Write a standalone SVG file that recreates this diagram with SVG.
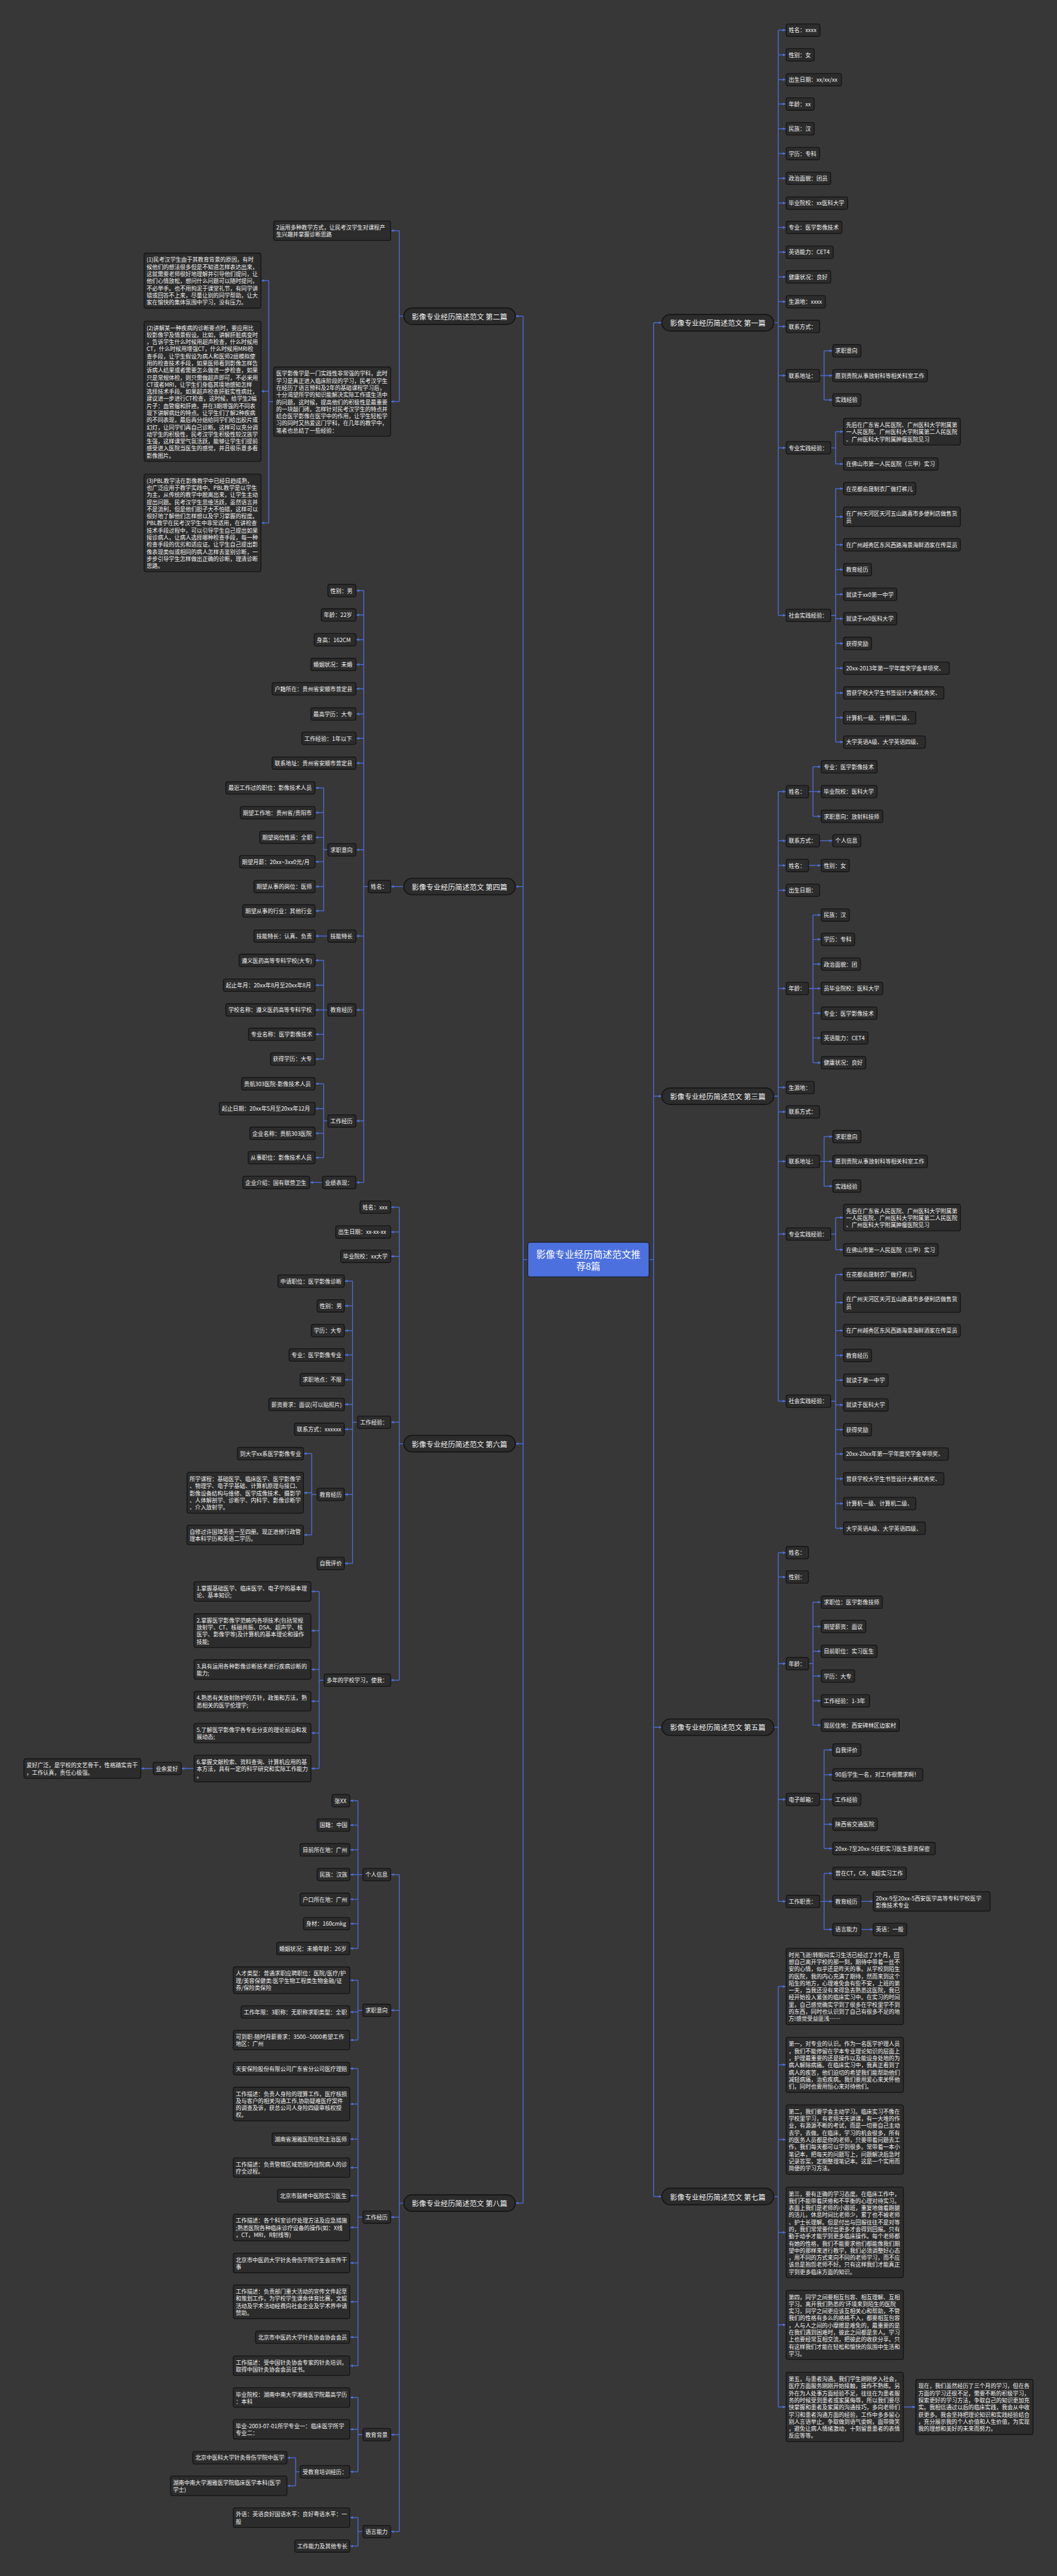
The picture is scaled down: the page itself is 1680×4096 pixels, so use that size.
<svg xmlns="http://www.w3.org/2000/svg" width="1680" height="4096" viewBox="0 0 1680 4096">
<defs>
<style>
.n rect{fill:#2c2c2c;stroke:#141414;stroke-width:2}
text{font-family:"Noto Sans CJK SC","Noto Sans",sans-serif;font-size:13.5px;fill:#f2f2f2;dominant-baseline:central}
.m rect{fill:#2c2c2c;stroke:#141414;stroke-width:2.5}
.m text{font-size:17.5px;text-anchor:middle}
.c path{fill:none;stroke:#4e6fd8;stroke-width:2}
.c path.a{marker-end:url(#ar)}
</style>
<marker id="ar" viewBox="0 0 10 10" refX="9" refY="5" markerWidth="8" markerHeight="8" markerUnits="userSpaceOnUse" orient="auto"><path d="M0,1L10,5L0,9z" fill="#4e6fd8"/></marker>
</defs>
<rect width="1680" height="4096" fill="#373737"/>
<g transform="scale(0.65625)">
<g id="connectors" class="c">
<path d="M1572,3052H1583M1583,782V5322M1278,3052H1267M1267,766V5338"/>
<path class="a" d="M1583,782H1602"/><path class="a" d="M1583,2656H1602"/><path class="a" d="M1583,4185H1602"/><path class="a" d="M1583,5322H1602"/>
<path class="a" d="M1267,766H1249"/><path class="a" d="M1267,2148H1249"/><path class="a" d="M1267,3498H1249"/><path class="a" d="M1267,5338H1249"/>
<path d="M1874,782H1885M1885,73V1491"/>
<path class="a" d="M1885,73H1903"/><path class="a" d="M1885,133H1903"/><path class="a" d="M1885,193H1903"/><path class="a" d="M1885,252H1903"/><path class="a" d="M1885,312H1903"/><path class="a" d="M1885,372H1903"/><path class="a" d="M1885,432H1903"/><path class="a" d="M1885,492H1903"/><path class="a" d="M1885,551H1903"/><path class="a" d="M1885,611H1903"/><path class="a" d="M1885,671H1903"/><path class="a" d="M1885,731H1903"/><path class="a" d="M1885,791H1903"/><path class="a" d="M1885,910H1903"/><path class="a" d="M1885,1085H1903"/><path class="a" d="M1885,1491H1903"/>
<path d="M1985,910H1996M1996,850V969"/><path class="a" d="M1996,850H2016"/><path class="a" d="M1996,910H2016"/><path class="a" d="M1996,969H2016"/>
<path d="M2012,1085H2024M2024,1046V1124"/><path class="a" d="M2024,1046H2042"/><path class="a" d="M2024,1124H2042"/>
<path d="M2012,1491H2024M2024,1184V1798"/><path class="a" d="M2024,1184H2042"/><path class="a" d="M2024,1252H2042"/><path class="a" d="M2024,1320H2042"/><path class="a" d="M2024,1380H2042"/><path class="a" d="M2024,1440H2042"/><path class="a" d="M2024,1499H2042"/><path class="a" d="M2024,1559H2042"/><path class="a" d="M2024,1619H2042"/><path class="a" d="M2024,1679H2042"/><path class="a" d="M2024,1739H2042"/><path class="a" d="M2024,1798H2042"/>
<path d="M1874,2656H1885M1885,1918V3395"/>
<path class="a" d="M1885,1918H1903"/><path class="a" d="M1885,2037H1903"/><path class="a" d="M1885,2097H1903"/><path class="a" d="M1885,2157H1903"/><path class="a" d="M1885,2395H1903"/><path class="a" d="M1885,2635H1903"/><path class="a" d="M1885,2694H1903"/><path class="a" d="M1885,2814H1903"/><path class="a" d="M1885,2990H1903"/><path class="a" d="M1885,3395H1903"/>
<path d="M1958,1918H1969M1969,1858V1978"/><path class="a" d="M1969,1858H1988"/><path class="a" d="M1969,1918H1988"/><path class="a" d="M1969,1978H1988"/>
<path class="a" d="M1985,2037H2016"/><path class="a" d="M1958,2097H1988"/>
<path d="M1958,2395H1969M1969,2217V2575"/><path class="a" d="M1969,2217H1988"/><path class="a" d="M1969,2276H1988"/><path class="a" d="M1969,2336H1988"/><path class="a" d="M1969,2395H1988"/><path class="a" d="M1969,2455H1988"/><path class="a" d="M1969,2515H1988"/><path class="a" d="M1969,2575H1988"/>
<path d="M1985,2814H1996M1996,2754V2874"/><path class="a" d="M1996,2754H2016"/><path class="a" d="M1996,2814H2016"/><path class="a" d="M1996,2874H2016"/>
<path d="M2012,2990H2024M2024,2950V3028"/><path class="a" d="M2024,2950H2042"/><path class="a" d="M2024,3028H2042"/>
<path d="M2012,3395H2024M2024,3088V3703"/><path class="a" d="M2024,3088H2042"/><path class="a" d="M2024,3156H2042"/><path class="a" d="M2024,3224H2042"/><path class="a" d="M2024,3284H2042"/><path class="a" d="M2024,3344H2042"/><path class="a" d="M2024,3404H2042"/><path class="a" d="M2024,3464H2042"/><path class="a" d="M2024,3523H2042"/><path class="a" d="M2024,3583H2042"/><path class="a" d="M2024,3643H2042"/><path class="a" d="M2024,3703H2042"/>
<path d="M1874,4185H1885M1885,3762V4607"/>
<path class="a" d="M1885,3762H1903"/><path class="a" d="M1885,3821H1903"/><path class="a" d="M1885,4031H1903"/><path class="a" d="M1885,4360H1903"/><path class="a" d="M1885,4607H1903"/>
<path d="M1958,4031H1969M1969,3882V4180"/><path class="a" d="M1969,3882H1988"/><path class="a" d="M1969,3941H1988"/><path class="a" d="M1969,4001H1988"/><path class="a" d="M1969,4061H1988"/><path class="a" d="M1969,4121H1988"/><path class="a" d="M1969,4180H1988"/>
<path d="M1985,4360H1996M1996,4240V4479"/><path class="a" d="M1996,4240H2016"/><path class="a" d="M1996,4300H2016"/><path class="a" d="M1996,4360H2016"/><path class="a" d="M1996,4420H2016"/><path class="a" d="M1996,4479H2016"/>
<path d="M1985,4607H1996M1996,4539V4675"/><path class="a" d="M1996,4539H2016"/><path class="a" d="M1996,4607H2016"/><path class="a" d="M1996,4675H2016"/>
<path class="a" d="M2085,4607H2114"/><path class="a" d="M2085,4675H2114"/>
<path d="M1874,5322H1885M1885,4813V5832"/>
<path class="a" d="M1885,4813H1903"/><path class="a" d="M1885,5003H1903"/><path class="a" d="M1885,5184H1903"/><path class="a" d="M1885,5409H1903"/><path class="a" d="M1885,5633H1903"/><path class="a" d="M1885,5832H1903"/>
<path class="a" d="M2188,5832H2217"/>
<path d="M978,766H967M967,559V973"/><path class="a" d="M967,559H947"/><path class="a" d="M967,973H947"/>
<path d="M663,973H651M651,680V1267"/><path class="a" d="M651,680H633"/><path class="a" d="M651,948H633"/><path class="a" d="M651,1267H633"/>
<path class="a" d="M978,2148H947"/>
<path d="M892,2148H881M881,1431V2865"/>
<path class="a" d="M881,1431H863"/><path class="a" d="M881,1490H863"/><path class="a" d="M881,1550H863"/><path class="a" d="M881,1610H863"/><path class="a" d="M881,1669H863"/><path class="a" d="M881,1730H863"/><path class="a" d="M881,1789H863"/><path class="a" d="M881,1849H863"/><path class="a" d="M881,2059H863"/><path class="a" d="M881,2268H863"/><path class="a" d="M881,2447H863"/><path class="a" d="M881,2716H863"/><path class="a" d="M881,2865H863"/>
<path d="M794,2059H784M784,1909V2207"/><path class="a" d="M784,1909H764"/><path class="a" d="M784,1969H764"/><path class="a" d="M784,2029H764"/><path class="a" d="M784,2088H764"/><path class="a" d="M784,2148H764"/><path class="a" d="M784,2207H764"/>
<path class="a" d="M794,2268H764"/>
<path d="M794,2447H784M784,2327V2566"/><path class="a" d="M784,2327H764"/><path class="a" d="M784,2387H764"/><path class="a" d="M784,2447H764"/><path class="a" d="M784,2506H764"/><path class="a" d="M784,2566H764"/>
<path d="M794,2716H784M784,2626V2805"/><path class="a" d="M784,2626H764"/><path class="a" d="M784,2686H764"/><path class="a" d="M784,2746H764"/><path class="a" d="M784,2805H764"/>
<path class="a" d="M781,2865H751"/>
<path d="M978,3498H967M967,2925V4071"/><path class="a" d="M967,2925H947"/><path class="a" d="M967,2985H947"/><path class="a" d="M967,3044H947"/><path class="a" d="M967,3446H947"/><path class="a" d="M967,4071H947"/>
<path d="M866,3446H854M854,3104V3788"/><path class="a" d="M854,3104H835"/><path class="a" d="M854,3164H835"/><path class="a" d="M854,3224H835"/><path class="a" d="M854,3283H835"/><path class="a" d="M854,3343H835"/><path class="a" d="M854,3403H835"/><path class="a" d="M854,3463H835"/><path class="a" d="M854,3621H835"/><path class="a" d="M854,3788H835"/>
<path d="M768,3621H755M755,3522V3719"/><path class="a" d="M755,3522H736"/><path class="a" d="M755,3617H736"/><path class="a" d="M755,3719H736"/>
<path d="M785,4071H773M773,3856V4285"/><path class="a" d="M773,3856H754"/><path class="a" d="M773,3951H754"/><path class="a" d="M773,4045H754"/><path class="a" d="M773,4122H754"/><path class="a" d="M773,4199H754"/><path class="a" d="M773,4285H754"/>
<path class="a" d="M470,4285H440"/><path class="a" d="M371,4285H342"/>
<path d="M978,5338H967M967,4542V6134"/><path class="a" d="M967,4542H947"/><path class="a" d="M967,4871H947"/><path class="a" d="M967,5372H947"/><path class="a" d="M967,5899H947"/><path class="a" d="M967,6134H947"/>
<path d="M879,4542H867M867,4363V4721"/><path class="a" d="M867,4363H848"/><path class="a" d="M867,4422H848"/><path class="a" d="M867,4482H848"/><path class="a" d="M867,4542H848"/><path class="a" d="M867,4602H848"/><path class="a" d="M867,4661H848"/><path class="a" d="M867,4721H848"/>
<path d="M879,4871H867M867,4798V4943"/><path class="a" d="M867,4798H848"/><path class="a" d="M867,4875H848"/><path class="a" d="M867,4943H848"/>
<path d="M879,5372H867M867,5012V5732"/><path class="a" d="M867,5012H848"/><path class="a" d="M867,5098H848"/><path class="a" d="M867,5183H848"/><path class="a" d="M867,5252H848"/><path class="a" d="M867,5320H848"/><path class="a" d="M867,5397H848"/><path class="a" d="M867,5483H848"/><path class="a" d="M867,5577H848"/><path class="a" d="M867,5663H848"/><path class="a" d="M867,5732H848"/>
<path d="M879,5899H867M867,5809V5989"/><path class="a" d="M867,5809H848"/><path class="a" d="M867,5886H848"/><path class="a" d="M867,5989H848"/>
<path d="M727,5989H716M716,5955V6023"/><path class="a" d="M716,5955H696"/><path class="a" d="M716,6023H696"/>
<path d="M879,6134H867M867,6100V6169"/><path class="a" d="M867,6100H848"/><path class="a" d="M867,6169H848"/>
</g>

<g id="root"><rect x="1278" y="3010" width="294" height="84" rx="6" fill="#4c70de" stroke="#1a1f33" stroke-width="2"/><text x="1425" y="3037" style="font-size:23px;text-anchor:middle;fill:#fff">影像专业经历简述范文推</text><text x="1425" y="3066" style="font-size:23px;text-anchor:middle;fill:#fff">荐8篇</text></g>

<g id="p1" class="m"><rect x="1603" y="762" width="271" height="40" rx="20"/><text x="1738.5" y="782">影像专业经历简述范文 第一篇</text></g>
<g id="p3" class="m"><rect x="1603" y="2636" width="271" height="40" rx="20"/><text x="1738.5" y="2656">影像专业经历简述范文 第三篇</text></g>
<g id="p5" class="m"><rect x="1603" y="4165" width="271" height="40" rx="20"/><text x="1738.5" y="4185">影像专业经历简述范文 第五篇</text></g>
<g id="p7" class="m"><rect x="1603" y="5302" width="271" height="40" rx="20"/><text x="1738.5" y="5322">影像专业经历简述范文 第七篇</text></g>
<g id="p2" class="m"><rect x="978" y="746" width="270" height="40" rx="20"/><text x="1113" y="766">影像专业经历简述范文 第二篇</text></g>
<g id="p4" class="m"><rect x="978" y="2128" width="270" height="40" rx="20"/><text x="1113" y="2148">影像专业经历简述范文 第四篇</text></g>
<g id="p6" class="m"><rect x="978" y="3478" width="270" height="40" rx="20"/><text x="1113" y="3498">影像专业经历简述范文 第六篇</text></g>
<g id="p8" class="m"><rect x="978" y="5318" width="270" height="40" rx="20"/><text x="1113" y="5338">影像专业经历简述范文 第八篇</text></g>

<g class="n">
<g id="a1"><rect x="1904" y="58" width="82" height="30" rx="5"/><text x="1910" y="73">姓名：xxxx</text></g>
<g id="a2"><rect x="1904" y="118" width="68" height="30" rx="5"/><text x="1910" y="133">性别：女</text></g>
<g id="a3"><rect x="1904" y="178" width="134" height="30" rx="5"/><text x="1910" y="193">出生日期：xx/xx/xx</text></g>
<g id="a4"><rect x="1904" y="237" width="68" height="30" rx="5"/><text x="1910" y="252">年龄：xx</text></g>
<g id="a5"><rect x="1904" y="297" width="68" height="30" rx="5"/><text x="1910" y="312">民族：汉</text></g>
<g id="a6"><rect x="1904" y="357" width="81" height="30" rx="5"/><text x="1910" y="372">学历：专科</text></g>
<g id="a7"><rect x="1904" y="417" width="108" height="30" rx="5"/><text x="1910" y="432">政治面貌：团员</text></g>
<g id="a8"><rect x="1904" y="477" width="149" height="30" rx="5"/><text x="1910" y="492">毕业院校：xx医科大学</text></g>
<g id="a9"><rect x="1904" y="536" width="135" height="30" rx="5"/><text x="1910" y="551">专业：医学影像技术</text></g>
<g id="a10"><rect x="1904" y="596" width="114" height="30" rx="5"/><text x="1910" y="611">英语能力：CET4</text></g>
<g id="a11"><rect x="1904" y="656" width="108" height="30" rx="5"/><text x="1910" y="671">健康状况：良好</text></g>
<g id="a12"><rect x="1904" y="716" width="95" height="30" rx="5"/><text x="1910" y="731">生源地：xxxx</text></g>
<g id="a13"><rect x="1904" y="776" width="81" height="30" rx="5"/><text x="1910" y="791">联系方式：</text></g>
<g id="a14"><rect x="1904" y="895" width="81" height="30" rx="5"/><text x="1910" y="910">联系地址：</text></g>
<g id="a14a"><rect x="2017" y="835" width="68" height="30" rx="5"/><text x="2023" y="850">求职意向</text></g>
<g id="a14b"><rect x="2017" y="895" width="229" height="30" rx="5"/><text x="2023" y="910">愿到贵院从事放射科等相关科室工作</text></g>
<g id="a14c"><rect x="2017" y="954" width="68" height="30" rx="5"/><text x="2023" y="969">实践经验</text></g>
<g id="a15"><rect x="1904" y="1070" width="108" height="30" rx="5"/><text x="1910" y="1085">专业实践经验：</text></g>
<g id="a15a"><rect x="2043" y="1013.7" width="283" height="64.6" rx="5"/><text y="1028.8"><tspan x="2049">先后在广东省人民医院、广州医科大学附属第</tspan><tspan x="2049" dy="17.2">一人民医院、广州医科大学附属第二人民医院</tspan><tspan x="2049" dy="17.2">、广州医科大学附属肿瘤医院见习</tspan></text></g>
<g id="a15b"><rect x="2043" y="1109" width="229" height="30" rx="5"/><text x="2049" y="1124">在佛山市第一人民医院（三甲）实习</text></g>
<g id="a16"><rect x="1904" y="1476" width="108" height="30" rx="5"/><text x="1910" y="1491">社会实践经验：</text></g>
<g id="a16a"><rect x="2043" y="1169" width="175" height="30" rx="5"/><text x="2049" y="1184">在花都俞晟制衣厂做打裤儿</text></g>
<g id="a16b"><rect x="2043" y="1228.3" width="283" height="47.4" rx="5"/><text y="1243.4"><tspan x="2049">在广州天河区天河五山路喜市多便利店做售货</tspan><tspan x="2049" dy="17.2">员</tspan></text></g>
<g id="a16c"><rect x="2043" y="1305" width="283" height="30" rx="5"/><text x="2049" y="1320">在广州越秀区东风西路海景海鲜酒家在传菜员</text></g>
<g id="a16d"><rect x="2043" y="1365" width="68" height="30" rx="5"/><text x="2049" y="1380">教育经历</text></g>
<g id="a16e"><rect x="2043" y="1425" width="129" height="30" rx="5"/><text x="2049" y="1440">就读于xx0第一中学</text></g>
<g id="a16f"><rect x="2043" y="1484" width="129" height="30" rx="5"/><text x="2049" y="1499">就读于xx0医科大学</text></g>
<g id="a16g"><rect x="2043" y="1544" width="68" height="30" rx="5"/><text x="2049" y="1559">获得奖励</text></g>
<g id="a16h"><rect x="2043" y="1604" width="256" height="30" rx="5"/><text x="2049" y="1619">20xx-2013年第一学年度奖学金单项奖、</text></g>
<g id="a16i"><rect x="2043" y="1664" width="243" height="30" rx="5"/><text x="2049" y="1679">曾获学校大学生书签设计大赛优秀奖、</text></g>
<g id="a16j"><rect x="2043" y="1724" width="175" height="30" rx="5"/><text x="2049" y="1739">计算机一级、计算机二级、</text></g>
<g id="a16k"><rect x="2043" y="1783" width="198" height="30" rx="5"/><text x="2049" y="1798">大学英语A级、大学英语四级、</text></g>

<g id="c1"><rect x="1904" y="1903" width="54" height="30" rx="5"/><text x="1910" y="1918">姓名：</text></g>
<g id="c1a"><rect x="1989" y="1843" width="135" height="30" rx="5"/><text x="1995" y="1858">专业：医学影像技术</text></g>
<g id="c1b"><rect x="1989" y="1903" width="135" height="30" rx="5"/><text x="1995" y="1918">毕业院校：医科大学</text></g>
<g id="c1c"><rect x="1989" y="1963" width="149" height="30" rx="5"/><text x="1995" y="1978">求职意向：放射科技师</text></g>
<g id="c2"><rect x="1904" y="2022" width="81" height="30" rx="5"/><text x="1910" y="2037">联系方式：</text></g>
<g id="c2a"><rect x="2017" y="2022" width="68" height="30" rx="5"/><text x="2023" y="2037">个人信息</text></g>
<g id="c3"><rect x="1904" y="2082" width="54" height="30" rx="5"/><text x="1910" y="2097">姓名：</text></g>
<g id="c3a"><rect x="1989" y="2082" width="68" height="30" rx="5"/><text x="1995" y="2097">性别：女</text></g>
<g id="c4"><rect x="1904" y="2142" width="81" height="30" rx="5"/><text x="1910" y="2157">出生日期：</text></g>
<g id="c5"><rect x="1904" y="2380" width="54" height="30" rx="5"/><text x="1910" y="2395">年龄：</text></g>
<g id="c5a"><rect x="1989" y="2202" width="68" height="30" rx="5"/><text x="1995" y="2217">民族：汉</text></g>
<g id="c5b"><rect x="1989" y="2261" width="81" height="30" rx="5"/><text x="1995" y="2276">学历：专科</text></g>
<g id="c5c"><rect x="1989" y="2321" width="95" height="30" rx="5"/><text x="1995" y="2336">政治面貌：团</text></g>
<g id="c5d"><rect x="1989" y="2380" width="149" height="30" rx="5"/><text x="1995" y="2395">员毕业院校：医科大学</text></g>
<g id="c5e"><rect x="1989" y="2440" width="135" height="30" rx="5"/><text x="1995" y="2455">专业：医学影像技术</text></g>
<g id="c5f"><rect x="1989" y="2500" width="113" height="30" rx="5"/><text x="1995" y="2515">英语能力：CET4</text></g>
<g id="c5g"><rect x="1989" y="2560" width="108" height="30" rx="5"/><text x="1995" y="2575">健康状况：良好</text></g>
<g id="c6"><rect x="1904" y="2620" width="68" height="30" rx="5"/><text x="1910" y="2635">生源地：</text></g>
<g id="c7"><rect x="1904" y="2679" width="81" height="30" rx="5"/><text x="1910" y="2694">联系方式：</text></g>
<g id="c8"><rect x="1904" y="2799" width="81" height="30" rx="5"/><text x="1910" y="2814">联系地址：</text></g>
<g id="c8a"><rect x="2017" y="2739" width="68" height="30" rx="5"/><text x="2023" y="2754">求职意向</text></g>
<g id="c8b"><rect x="2017" y="2799" width="229" height="30" rx="5"/><text x="2023" y="2814">愿到贵院从事放射科等相关科室工作</text></g>
<g id="c8c"><rect x="2017" y="2859" width="68" height="30" rx="5"/><text x="2023" y="2874">实践经验</text></g>
<g id="c9"><rect x="1904" y="2975" width="108" height="30" rx="5"/><text x="1910" y="2990">专业实践经验：</text></g>
<g id="c9a"><rect x="2043" y="2917.7" width="283" height="64.6" rx="5"/><text y="2932.8"><tspan x="2049">先后在广东省人民医院、广州医科大学附属第</tspan><tspan x="2049" dy="17.2">一人民医院、广州医科大学附属第二人民医院</tspan><tspan x="2049" dy="17.2">、广州医科大学附属肿瘤医院见习</tspan></text></g>
<g id="c9b"><rect x="2043" y="3013" width="229" height="30" rx="5"/><text x="2049" y="3028">在佛山市第一人民医院（三甲）实习</text></g>
<g id="c10"><rect x="1904" y="3380" width="108" height="30" rx="5"/><text x="1910" y="3395">社会实践经验：</text></g>
<g id="c10a"><rect x="2043" y="3073" width="175" height="30" rx="5"/><text x="2049" y="3088">在花都俞晟制衣厂做打裤儿</text></g>
<g id="c10b"><rect x="2043" y="3132.3" width="283" height="47.4" rx="5"/><text y="3147.4"><tspan x="2049">在广州天河区天河五山路喜市多便利店做售货</tspan><tspan x="2049" dy="17.2">员</tspan></text></g>
<g id="c10c"><rect x="2043" y="3209" width="283" height="30" rx="5"/><text x="2049" y="3224">在广州越秀区东风西路海景海鲜酒家在传菜员</text></g>
<g id="c10d"><rect x="2043" y="3269" width="68" height="30" rx="5"/><text x="2049" y="3284">教育经历</text></g>
<g id="c10e"><rect x="2043" y="3329" width="108" height="30" rx="5"/><text x="2049" y="3344">就读于第一中学</text></g>
<g id="c10f"><rect x="2043" y="3389" width="108" height="30" rx="5"/><text x="2049" y="3404">就读于医科大学</text></g>
<g id="c10g"><rect x="2043" y="3449" width="68" height="30" rx="5"/><text x="2049" y="3464">获得奖励</text></g>
<g id="c10h"><rect x="2043" y="3508" width="254" height="30" rx="5"/><text x="2049" y="3523">20xx-20xx年第一学年度奖学金单项奖、</text></g>
<g id="c10i"><rect x="2043" y="3568" width="243" height="30" rx="5"/><text x="2049" y="3583">曾获学校大学生书签设计大赛优秀奖、</text></g>
<g id="c10j"><rect x="2043" y="3628" width="175" height="30" rx="5"/><text x="2049" y="3643">计算机一级、计算机二级、</text></g>
<g id="c10k"><rect x="2043" y="3688" width="198" height="30" rx="5"/><text x="2049" y="3703">大学英语A级、大学英语四级、</text></g>

<g id="e1"><rect x="1904" y="3747" width="54" height="30" rx="5"/><text x="1910" y="3762">姓名：</text></g>
<g id="e2"><rect x="1904" y="3806" width="54" height="30" rx="5"/><text x="1910" y="3821">性别：</text></g>
<g id="e3"><rect x="1904" y="4016" width="54" height="30" rx="5"/><text x="1910" y="4031">年龄：</text></g>
<g id="e3a"><rect x="1989" y="3867" width="148" height="30" rx="5"/><text x="1995" y="3882">求职位：医学影像技师</text></g>
<g id="e3b"><rect x="1989" y="3926" width="108" height="30" rx="5"/><text x="1995" y="3941">期望薪资：面议</text></g>
<g id="e3c"><rect x="1989" y="3986" width="135" height="30" rx="5"/><text x="1995" y="4001">目前职位：实习医生</text></g>
<g id="e3d"><rect x="1989" y="4046" width="81" height="30" rx="5"/><text x="1995" y="4061">学历：大专</text></g>
<g id="e3e"><rect x="1989" y="4106" width="117" height="30" rx="5"/><text x="1995" y="4121">工作经验：1-3年</text></g>
<g id="e3f"><rect x="1989" y="4165" width="189" height="30" rx="5"/><text x="1995" y="4180">现居住地：西安碑林区边家村</text></g>
<g id="e4"><rect x="1904" y="4345" width="81" height="30" rx="5"/><text x="1910" y="4360">电子邮箱：</text></g>
<g id="e4a"><rect x="2017" y="4225" width="68" height="30" rx="5"/><text x="2023" y="4240">自我评价</text></g>
<g id="e4b"><rect x="2017" y="4285" width="218" height="30" rx="5"/><text x="2023" y="4300">90后学生一名，对工作很需求啊！</text></g>
<g id="e4c"><rect x="2017" y="4345" width="68" height="30" rx="5"/><text x="2023" y="4360">工作经验</text></g>
<g id="e4d"><rect x="2017" y="4405" width="108" height="30" rx="5"/><text x="2023" y="4420">陕西省交通医院</text></g>
<g id="e4e"><rect x="2017" y="4464" width="248" height="30" rx="5"/><text x="2023" y="4479">20xx-7至20xx-5任职实习医生薪资保密</text></g>
<g id="e5"><rect x="1904" y="4592" width="81" height="30" rx="5"/><text x="1910" y="4607">工作职责：</text></g>
<g id="e5a"><rect x="2017" y="4524" width="178" height="30" rx="5"/><text x="2023" y="4539">曾在CT，CR，B超实习工作</text></g>
<g id="e5b"><rect x="2017" y="4592" width="68" height="30" rx="5"/><text x="2023" y="4607">教育经历</text></g>
<g id="e5b1"><rect x="2115" y="4583.3" width="283" height="47.4" rx="5"/><text y="4598.4"><tspan x="2121">20xx-9至20xx-5西安医学高等专科学校医学</tspan><tspan x="2121" dy="17.2">影像技术专业</tspan></text></g>
<g id="e5c"><rect x="2017" y="4660" width="68" height="30" rx="5"/><text x="2023" y="4675">语言能力</text></g>
<g id="e5c1"><rect x="2115" y="4660" width="81" height="30" rx="5"/><text x="2121" y="4675">英语：一般</text></g>

<g id="g1"><rect x="1904" y="4720.5" width="284" height="185" rx="5"/><text y="4735.6"><tspan x="1910">时光飞逝!转眼间实习生活已经过了3个月，回</tspan><tspan x="1910" dy="17.2">想自己离开学校的那一刻，期待中带着一丝不</tspan><tspan x="1910" dy="17.2">安的心情，似乎还是昨天的事。从学校到陌生</tspan><tspan x="1910" dy="17.2">的医院，我的内心充满了期待，然而来到这个</tspan><tspan x="1910" dy="17.2">陌生的地方，心理难免会有些不安，上班的第</tspan><tspan x="1910" dy="17.2">一天，当我还没有来得急去熟悉这医院，我已</tspan><tspan x="1910" dy="17.2">经开始投入紧张的临床实习中。在实习的时间</tspan><tspan x="1910" dy="17.2">里，自己感觉确实学到了很多在学校里学不到</tspan><tspan x="1910" dy="17.2">的东西，同时也认识到了自己有很多不足的地</tspan><tspan x="1910" dy="17.2">方!感觉受益匪浅……</tspan></text></g>
<g id="g2"><rect x="1904" y="4936.3" width="284" height="133.4" rx="5"/><text y="4951.4"><tspan x="1910">第一，对专业的认识。作为一名医学护理人员</tspan><tspan x="1910" dy="17.2">，我们不能停留在学本专业理论知识的层面上</tspan><tspan x="1910" dy="17.2">，护理最重要的还是操作以及能设身处地的为</tspan><tspan x="1910" dy="17.2">病人解除病痛。在临床实习中，我真正看到了</tspan><tspan x="1910" dy="17.2">病人的疾苦，他们迫切的希望我们能帮助他们</tspan><tspan x="1910" dy="17.2">减轻病痛，治愈疾病。我们要用爱心来关怀他</tspan><tspan x="1910" dy="17.2">们，同时也要用恒心来对待他们。</tspan></text></g>
<g id="g3"><rect x="1904" y="5100.1" width="284" height="167.8" rx="5"/><text y="5115.2"><tspan x="1910">第二，我们要学会主动学习。临床实习不像在</tspan><tspan x="1910" dy="17.2">学校里学习，有老师天天讲课，有一大堆的作</tspan><tspan x="1910" dy="17.2">业，有源源不断的考试，而是一切要自己主动</tspan><tspan x="1910" dy="17.2">去学，去做。在临床，学习的机会很多，所有</tspan><tspan x="1910" dy="17.2">的医务人员都是你的老师，只要带着问题去工</tspan><tspan x="1910" dy="17.2">作，我们每天都可以学到很多。常带着一本小</tspan><tspan x="1910" dy="17.2">笔记本，把每天的问题写上，问题解决后急时</tspan><tspan x="1910" dy="17.2">记录答案，定期整理笔记本。这是一个实用而</tspan><tspan x="1910" dy="17.2">简便的学习方法。</tspan></text></g>
<g id="g4"><rect x="1904" y="5299.3" width="284" height="219.4" rx="5"/><text y="5314.4"><tspan x="1910">第三，要有正确的学习态度。在临床工作中，</tspan><tspan x="1910" dy="17.2">我们不能带着厌倦和不平衡的心理对待实习。</tspan><tspan x="1910" dy="17.2">表面上我们是老师的小跟班，重复地做着跑腿</tspan><tspan x="1910" dy="17.2">的活儿，休息时间比老师少，累了也不被老师</tspan><tspan x="1910" dy="17.2">、护士长理解。但是付出与回报往往不是对等</tspan><tspan x="1910" dy="17.2">的，我们常常要付出更多才会得到回报。只有</tspan><tspan x="1910" dy="17.2">勤于动手才能学到更多临床操作。每个老师都</tspan><tspan x="1910" dy="17.2">有她的性格，我们不能要求他们都能像我们期</tspan><tspan x="1910" dy="17.2">望中的那样来进行教学，我们必须调整好心态</tspan><tspan x="1910" dy="17.2">，用不同的方式来向不同的老师学习，而不应</tspan><tspan x="1910" dy="17.2">该总是抱怨老师不好。只有这样我们才能真正</tspan><tspan x="1910" dy="17.2">学到更多临床方面的知识。</tspan></text></g>
<g id="g5"><rect x="1904" y="5549.1" width="284" height="167.8" rx="5"/><text y="5564.2"><tspan x="1910">第四，同学之间要相互包容、相互理解、互相</tspan><tspan x="1910" dy="17.2">学习。离开我们熟悉的'环境来到陌生的医院</tspan><tspan x="1910" dy="17.2">实习，同学之间更应该互相关心和帮助，不管</tspan><tspan x="1910" dy="17.2">我们的性格有多么的格格不入，都要相互包容</tspan><tspan x="1910" dy="17.2">，人与人之间的小摩擦是难免的，最重要的是</tspan><tspan x="1910" dy="17.2">在我们遇到困难时，彼此之间都是亲人。学习</tspan><tspan x="1910" dy="17.2">上也要经常互相交流，把彼此的收获分享。只</tspan><tspan x="1910" dy="17.2">有这样我们才能在轻松和愉快的氛围中生活和</tspan><tspan x="1910" dy="17.2">学习。</tspan></text></g>
<g id="g6"><rect x="1904" y="5748.1" width="284" height="167.8" rx="5"/><text y="5763.2"><tspan x="1910">第五，与患者沟通。我们学生刚刚步入社会，</tspan><tspan x="1910" dy="17.2">医疗方面服务刚刚开始接触，操作不熟练。另</tspan><tspan x="1910" dy="17.2">外在为人处事方面经验不足，往往在为患者服</tspan><tspan x="1910" dy="17.2">务的时候受到患者或家属侮辱，所以我们要尽</tspan><tspan x="1910" dy="17.2">快掌握和患者及家属的沟通技巧，多向老师们</tspan><tspan x="1910" dy="17.2">学习和患者沟通方面的经验，工作中多多留心</tspan><tspan x="1910" dy="17.2">别人言语举止。争取做到语气委婉，面带微笑</tspan><tspan x="1910" dy="17.2">，避免让病人情绪激动，十刻留意患者的表情</tspan><tspan x="1910" dy="17.2">反应等等。</tspan></text></g>
<g id="g6a"><rect x="2218" y="5765.3" width="284" height="133.4" rx="5"/><text y="5780.4"><tspan x="2224">现在，我们虽然经历了三个月的学习，但在各</tspan><tspan x="2224" dy="17.2">方面的学习还很不足，需要不断的积极学习，</tspan><tspan x="2224" dy="17.2">探索更好的学习方法，争取自己的知识更加充</tspan><tspan x="2224" dy="17.2">实。我相信通过以后的临床实践，我会从中收</tspan><tspan x="2224" dy="17.2">获更多。我会坚持把理论知识和实践经验结合</tspan><tspan x="2224" dy="17.2">，充分展示我的个人价值和人生价值，为实现</tspan><tspan x="2224" dy="17.2">我的理想和美好的未来而努力。</tspan></text></g>

<g id="b1"><rect x="663" y="535.3" width="283" height="47.4" rx="5"/><text y="550.4"><tspan x="669">2运用多种教学方式，让民考汉学生对课程产</tspan><tspan x="669" dy="17.2">生兴趣并掌握诊断思路</tspan></text></g>
<g id="b2"><rect x="663" y="889.1" width="283" height="167.8" rx="5"/><text y="904.2"><tspan x="669">医学影像学是一门实践性非常强的学科，此时</tspan><tspan x="669" dy="17.2">学习是真正进入临床阶段的学习，民考汉学生</tspan><tspan x="669" dy="17.2">在经历了语言预科及2年的基础课程学习后，</tspan><tspan x="669" dy="17.2">十分渴望所学的知识能解决实际工作或生活中</tspan><tspan x="669" dy="17.2">的问题，这时候，提高他们的积极性是最重要</tspan><tspan x="669" dy="17.2">的一块敲门砖。怎样针对民考汉学生的特点并</tspan><tspan x="669" dy="17.2">结合医学影像在医学中的作用，让学生轻松学</tspan><tspan x="669" dy="17.2">习的同时又热爱这门学科，在几年的教学中，</tspan><tspan x="669" dy="17.2">笔者也总结了一些经验：</tspan></text></g>
<g id="b2a"><rect x="349" y="613.3" width="283" height="133.4" rx="5"/><text y="628.4"><tspan x="355">(1)民考汉学生由于其教育背景的原因，有时</tspan><tspan x="355" dy="17.2">候他们的想法很多但是不知道怎样表达出来，</tspan><tspan x="355" dy="17.2">这就需要老师很好地理解并引导他们提问，让</tspan><tspan x="355" dy="17.2">他们心情放松，想问什么问题可以随时提问，</tspan><tspan x="355" dy="17.2">不必举手。也不用拘泥于课堂礼节，有同学讲</tspan><tspan x="355" dy="17.2">错或回答不上来，尽量让别的同学帮助，让大</tspan><tspan x="355" dy="17.2">家在愉快的集体氛围中学习，没有压力。</tspan></text></g>
<g id="b2b"><rect x="349" y="778.1" width="283" height="339.8" rx="5"/><text y="793.2"><tspan x="355">(2)讲解某一种疾病的诊断要点时，要应用比</tspan><tspan x="355" dy="17.2">较影像学及情景假设。比如，讲解肝脏病变时</tspan><tspan x="355" dy="17.2">，告诉学生什么时候用超声检查，什么时候用</tspan><tspan x="355" dy="17.2">CT，什么时候用增强CT，什么时候用MRI检</tspan><tspan x="355" dy="17.2">查手段，让学生假设为病人和医师2组模拟使</tspan><tspan x="355" dy="17.2">用的检查技术手段，如果医师看到影像怎样告</tspan><tspan x="355" dy="17.2">诉病人结果或者需要怎么做进一步检查，如果</tspan><tspan x="355" dy="17.2">只是常规体检，则只需做超声即可，不必采用</tspan><tspan x="355" dy="17.2">CT或者MRI，让学生们身临其境地感知怎样</tspan><tspan x="355" dy="17.2">选择技术手段。如果超声检查肝脏实性病灶，</tspan><tspan x="355" dy="17.2">建议进一步进行CT检查，这时候，给学生2幅</tspan><tspan x="355" dy="17.2">片子：血管瘤和肝癌，并在3期增强的不同表</tspan><tspan x="355" dy="17.2">现下讲解病灶的特点。让学生们了解2种疾病</tspan><tspan x="355" dy="17.2">的不同表现，最后再分组给同学们给出胶片或</tspan><tspan x="355" dy="17.2">幻灯，让同学们再自己诊断。这样可以充分调</tspan><tspan x="355" dy="17.2">动学生的积极性，民考汉学生积极性较汉族学</tspan><tspan x="355" dy="17.2">生强，这样课堂气氛活跃，能够让学生们提前</tspan><tspan x="355" dy="17.2">感受进入医院当医生的感觉，并且很乐意多看</tspan><tspan x="355" dy="17.2">影像图片。</tspan></text></g>
<g id="b2c"><rect x="349" y="1148.7" width="283" height="236.6" rx="5"/><text y="1163.8"><tspan x="355">(3)PBL教学法在影像教学中已经日趋成熟，</tspan><tspan x="355" dy="17.2">也广泛应用于教学实践中。PBL教学是以学生</tspan><tspan x="355" dy="17.2">为主，从传统的教学中脱离出来，让学生主动</tspan><tspan x="355" dy="17.2">提出问题。民考汉学生思维活跃，虽然语言并</tspan><tspan x="355" dy="17.2">不是流利，但是他们胆子大不怕错，这样可以</tspan><tspan x="355" dy="17.2">很好地了解他们怎样想以及学习掌握的程度。</tspan><tspan x="355" dy="17.2">PBL教学在民考汉学生中非常适用，在讲检查</tspan><tspan x="355" dy="17.2">技术手段过程中，可以引导学生自己提出如果</tspan><tspan x="355" dy="17.2">接诊病人，让病人选择哪种检查手段，每一种</tspan><tspan x="355" dy="17.2">检查手段的优劣和适应证。让学生自己提出影</tspan><tspan x="355" dy="17.2">像表现类似或相同的病人怎样去鉴别诊断，一</tspan><tspan x="355" dy="17.2">步步引导学生怎样做出正确的诊断，理清诊断</tspan><tspan x="355" dy="17.2">思路。</tspan></text></g>

<g id="d0"><rect x="892" y="2133" width="54" height="30" rx="5"/><text x="898" y="2148">姓名：</text></g>
<g id="d1"><rect x="794" y="1416" width="68" height="30" rx="5"/><text x="800" y="1431">性别：男</text></g>
<g id="d2"><rect x="778" y="1475" width="84" height="30" rx="5"/><text x="784" y="1490">年龄：22岁</text></g>
<g id="d3"><rect x="761" y="1535" width="101" height="30" rx="5"/><text x="767" y="1550">身高：162CM</text></g>
<g id="d4"><rect x="753" y="1595" width="109" height="30" rx="5"/><text x="759" y="1610">婚姻状况：未婚</text></g>
<g id="d5"><rect x="659" y="1654" width="203" height="30" rx="5"/><text x="665" y="1669">户籍所在：贵州省安顺市普定县</text></g>
<g id="d6"><rect x="753" y="1715" width="109" height="30" rx="5"/><text x="759" y="1730">最高学历：大专</text></g>
<g id="d7"><rect x="731" y="1774" width="131" height="30" rx="5"/><text x="737" y="1789">工作经验：1年以下</text></g>
<g id="d8"><rect x="659" y="1834" width="203" height="30" rx="5"/><text x="665" y="1849">联系地址：贵州省安顺市普定县</text></g>
<g id="d9"><rect x="794" y="2044" width="68" height="30" rx="5"/><text x="800" y="2059">求职意向</text></g>
<g id="d9a"><rect x="547" y="1894" width="216" height="30" rx="5"/><text x="553" y="1909">最近工作过的职位：影像技术人员</text></g>
<g id="d9b"><rect x="582" y="1954" width="181" height="30" rx="5"/><text x="588" y="1969">期望工作地：贵州省/贵阳市</text></g>
<g id="d9c"><rect x="629" y="2014" width="134" height="30" rx="5"/><text x="635" y="2029">期望岗位性质：全职</text></g>
<g id="d9d"><rect x="580" y="2073" width="183" height="30" rx="5"/><text x="586" y="2088">期望月薪：20xx~3xx0元/月</text></g>
<g id="d9e"><rect x="615" y="2133" width="148" height="30" rx="5"/><text x="621" y="2148">期望从事的岗位：医师</text></g>
<g id="d9f"><rect x="588" y="2192" width="175" height="30" rx="5"/><text x="594" y="2207">期望从事的行业：其他行业</text></g>
<g id="d10"><rect x="794" y="2253" width="68" height="30" rx="5"/><text x="800" y="2268">技能特长</text></g>
<g id="d10a"><rect x="615" y="2253" width="148" height="30" rx="5"/><text x="621" y="2268">技能特长：认真、负责</text></g>
<g id="d11"><rect x="794" y="2432" width="68" height="30" rx="5"/><text x="800" y="2447">教育经历</text></g>
<g id="d11a"><rect x="579" y="2312" width="184" height="30" rx="5"/><text x="585" y="2327">遵义医药高等专科学校(大专)</text></g>
<g id="d11b"><rect x="541" y="2372" width="222" height="30" rx="5"/><text x="547" y="2387">起止年月：20xx年8月至20xx年8月</text></g>
<g id="d11c"><rect x="547" y="2432" width="216" height="30" rx="5"/><text x="553" y="2447">学校名称：遵义医药高等专科学校</text></g>
<g id="d11d"><rect x="602" y="2491" width="161" height="30" rx="5"/><text x="608" y="2506">专业名称：医学影像技术</text></g>
<g id="d11e"><rect x="655" y="2551" width="108" height="30" rx="5"/><text x="661" y="2566">获得学历：大专</text></g>
<g id="d12"><rect x="794" y="2701" width="68" height="30" rx="5"/><text x="800" y="2716">工作经历</text></g>
<g id="d12a"><rect x="585" y="2611" width="178" height="30" rx="5"/><text x="591" y="2626">贵航303医院-影像技术人员</text></g>
<g id="d12b"><rect x="531" y="2671" width="232" height="30" rx="5"/><text x="537" y="2686">起止日期：20xx年5月至20xx年12月</text></g>
<g id="d12c"><rect x="605" y="2731" width="158" height="30" rx="5"/><text x="611" y="2746">企业名称：贵航303医院</text></g>
<g id="d12d"><rect x="601" y="2790" width="162" height="30" rx="5"/><text x="607" y="2805">从事职位：影像技术人员</text></g>
<g id="d13"><rect x="781" y="2850" width="81" height="30" rx="5"/><text x="787" y="2865">业绩表现：</text></g>
<g id="d13a"><rect x="588" y="2850" width="162" height="30" rx="5"/><text x="594" y="2865">企业介绍：国有联营卫生</text></g>

<g id="f1"><rect x="872" y="2910" width="74" height="30" rx="5"/><text x="878" y="2925">姓名：xxx</text></g>
<g id="f2"><rect x="813" y="2970" width="133" height="30" rx="5"/><text x="819" y="2985">出生日期：xx-xx-xx</text></g>
<g id="f3"><rect x="825" y="3029" width="121" height="30" rx="5"/><text x="831" y="3044">毕业院校：xx大学</text></g>
<g id="f4"><rect x="866" y="3431" width="80" height="30" rx="5"/><text x="872" y="3446">工作经验：</text></g>
<g id="f4a"><rect x="673" y="3089" width="161" height="30" rx="5"/><text x="679" y="3104">申请职位：医学影像诊断</text></g>
<g id="f4b"><rect x="768" y="3149" width="66" height="30" rx="5"/><text x="774" y="3164">性别：男</text></g>
<g id="f4c"><rect x="754" y="3209" width="80" height="30" rx="5"/><text x="760" y="3224">学历：大专</text></g>
<g id="f4d"><rect x="700" y="3268" width="134" height="30" rx="5"/><text x="706" y="3283">专业：医学影像专业</text></g>
<g id="f4e"><rect x="727" y="3328" width="107" height="30" rx="5"/><text x="733" y="3343">求职地点：不限</text></g>
<g id="f4f"><rect x="651" y="3388" width="183" height="30" rx="5"/><text x="657" y="3403">薪资要求：面议(可以贴照片)</text></g>
<g id="f4g"><rect x="713" y="3448" width="121" height="30" rx="5"/><text x="719" y="3463">联系方式：xxxxxx</text></g>
<g id="f4h"><rect x="768" y="3606" width="66" height="30" rx="5"/><text x="774" y="3621">教育经历</text></g>
<g id="f4h1"><rect x="575" y="3507" width="160" height="30" rx="5"/><text x="581" y="3522">到大学xx系医学影像专业</text></g>
<g id="f4h2"><rect x="453" y="3567.5" width="282" height="99" rx="5"/><text y="3582.6"><tspan x="459">所学课程：基础医学、临床医学、医学影像学</tspan><tspan x="459" dy="17.2">、物理学、电子学基础、计算机原理与接口、</tspan><tspan x="459" dy="17.2">影像设备结构与维修、医学成像技术、摄影学</tspan><tspan x="459" dy="17.2">、人体解剖学、诊断学、内科学、影像诊断学</tspan><tspan x="459" dy="17.2">、介入放射学。</tspan></text></g>
<g id="f4h3"><rect x="453" y="3695.3" width="282" height="47.4" rx="5"/><text y="3710.4"><tspan x="459">自修过许国璋英语一至四册。现正进修行政管</tspan><tspan x="459" dy="17.2">理本科学历和英语二学历。</tspan></text></g>
<g id="f4i"><rect x="768" y="3773" width="66" height="30" rx="5"/><text x="774" y="3788">自我评价</text></g>
<g id="f5"><rect x="785" y="4056" width="161" height="30" rx="5"/><text x="791" y="4071">多年的学校学习，使我：</text></g>
<g id="f5a"><rect x="470" y="3832.3" width="283" height="47.4" rx="5"/><text y="3847.4"><tspan x="476">1.掌握基础医学、临床医学、电子学的基本理</tspan><tspan x="476" dy="17.2">论、基本知识;</tspan></text></g>
<g id="f5b"><rect x="470" y="3910.1" width="283" height="81.8" rx="5"/><text y="3925.2"><tspan x="476">2.掌握医学影像学范畴内各项技术(包括常规</tspan><tspan x="476" dy="17.2">放射学、CT、核磁共振、DSA、超声学、核</tspan><tspan x="476" dy="17.2">医学、影像学等)及计算机的基本理论和操作</tspan><tspan x="476" dy="17.2">技能;</tspan></text></g>
<g id="f5c"><rect x="470" y="4021.3" width="283" height="47.4" rx="5"/><text y="4036.4"><tspan x="476">3.具有运用各种影像诊断技术进行疾病诊断的</tspan><tspan x="476" dy="17.2">能力;</tspan></text></g>
<g id="f5d"><rect x="470" y="4098.3" width="283" height="47.4" rx="5"/><text y="4113.4"><tspan x="476">4.熟悉有关放射防护的方针，政策和方法，熟</tspan><tspan x="476" dy="17.2">悉相关的医学伦理学;</tspan></text></g>
<g id="f5e"><rect x="470" y="4175.3" width="283" height="47.4" rx="5"/><text y="4190.4"><tspan x="476">5.了解医学影像学各专业分支的理论前沿和发</tspan><tspan x="476" dy="17.2">展动态;</tspan></text></g>
<g id="f5f"><rect x="470" y="4252.7" width="283" height="64.6" rx="5"/><text y="4267.8"><tspan x="476">6.掌握文献检索、资料查询、计算机应用的基</tspan><tspan x="476" dy="17.2">本方法，具有一定的科学研究和实际工作能力</tspan><tspan x="476" dy="17.2">。</tspan></text></g>
<g id="f5f1"><rect x="371" y="4270" width="68" height="30" rx="5"/><text x="377" y="4285">业余爱好</text></g>
<g id="f5f2"><rect x="58" y="4261.3" width="283" height="47.4" rx="5"/><text y="4276.4"><tspan x="64">爱好广泛，是学校的文艺骨干，性格踏实肯干</tspan><tspan x="64" dy="17.2">，工作认真，责任心极强。</tspan></text></g>

<g id="h1"><rect x="879" y="4527" width="67" height="30" rx="5"/><text x="885" y="4542">个人信息</text></g>
<g id="h1a"><rect x="804" y="4348" width="43" height="30" rx="5"/><text x="810" y="4363">张XX</text></g>
<g id="h1b"><rect x="768" y="4407" width="79" height="30" rx="5"/><text x="774" y="4422">国籍：中国</text></g>
<g id="h1c"><rect x="727" y="4467" width="120" height="30" rx="5"/><text x="733" y="4482">目前所在地：广州</text></g>
<g id="h1d"><rect x="768" y="4527" width="79" height="30" rx="5"/><text x="774" y="4542">民族：汉族</text></g>
<g id="h1e"><rect x="727" y="4587" width="120" height="30" rx="5"/><text x="733" y="4602">户口所在地：广州</text></g>
<g id="h1f"><rect x="735" y="4646" width="112" height="30" rx="5"/><text x="741" y="4661">身材：160cmkg</text></g>
<g id="h1g"><rect x="670" y="4706" width="177" height="30" rx="5"/><text x="676" y="4721">婚姻状况：未婚年龄：26岁</text></g>
<g id="h2"><rect x="879" y="4856" width="67" height="30" rx="5"/><text x="885" y="4871">求职意向</text></g>
<g id="h2a"><rect x="565" y="4765.7" width="282" height="64.6" rx="5"/><text y="4780.8"><tspan x="571">人才类型：普通求职应聘职位：医院/医疗/护</tspan><tspan x="571" dy="17.2">理/美容保健类:医学生物工程类生物金融/证</tspan><tspan x="571" dy="17.2">券/保险类保险</tspan></text></g>
<g id="h2b"><rect x="584" y="4860" width="263" height="30" rx="5"/><text x="590" y="4875">工作年限：3职称：无职称求职类型：全职</text></g>
<g id="h2c"><rect x="565" y="4919.3" width="282" height="47.4" rx="5"/><text y="4934.4"><tspan x="571">可到职-随时月薪要求：3500--5000希望工作</tspan><tspan x="571" dy="17.2">地区：广州</tspan></text></g>
<g id="h3"><rect x="879" y="5357" width="67" height="30" rx="5"/><text x="885" y="5372">工作经历</text></g>
<g id="h3a"><rect x="565" y="4997" width="282" height="30" rx="5"/><text x="571" y="5012">天安保险股份有限公司广东省分公司医疗理赔</text></g>
<g id="h3b"><rect x="565" y="5057.1" width="282" height="81.8" rx="5"/><text y="5072.2"><tspan x="571">工作描述：负责人身险的理算工作，医疗核损</tspan><tspan x="571" dy="17.2">及与客户的相关沟通工作,协助疑难医疗案件</tspan><tspan x="571" dy="17.2">的调查及诉，获总公司人身险四级审核权授</tspan><tspan x="571" dy="17.2">权。</tspan></text></g>
<g id="h3c"><rect x="659" y="5168" width="188" height="30" rx="5"/><text x="665" y="5183">湖南省湘雅医院住院主治医师</text></g>
<g id="h3d"><rect x="565" y="5228.3" width="282" height="47.4" rx="5"/><text y="5243.4"><tspan x="571">工作描述：负责管辖区域范围内住院病人的诊</tspan><tspan x="571" dy="17.2">疗全过程。</tspan></text></g>
<g id="h3e"><rect x="672" y="5305" width="175" height="30" rx="5"/><text x="678" y="5320">北京市鼓楼中医院实习医生</text></g>
<g id="h3f"><rect x="565" y="5364.7" width="282" height="64.6" rx="5"/><text y="5379.8"><tspan x="571">工作描述：各个科室诊疗处理方法及应急措施</tspan><tspan x="571" dy="17.2">;熟悉医院各种临床诊疗设备的操作(如：X线</tspan><tspan x="571" dy="17.2">，CT，MRI，R射线等)</tspan></text></g>
<g id="h3g"><rect x="565" y="5459.3" width="282" height="47.4" rx="5"/><text y="5474.4"><tspan x="571">北京市中医药大学针灸骨伤学院学生会宣传干</tspan><tspan x="571" dy="17.2">事</tspan></text></g>
<g id="h3h"><rect x="565" y="5536.1" width="282" height="81.8" rx="5"/><text y="5551.2"><tspan x="571">工作描述：负责部门重大活动的宣传文件起草</tspan><tspan x="571" dy="17.2">和策划工作，为学校学生课余体育比赛，文娱</tspan><tspan x="571" dy="17.2">活动及学术活动经费向社会企业及学术界申请</tspan><tspan x="571" dy="17.2">赞助。</tspan></text></g>
<g id="h3i"><rect x="619" y="5648" width="228" height="30" rx="5"/><text x="625" y="5663">北京市中医药大学针灸协会协会会员</text></g>
<g id="h3j"><rect x="565" y="5708.3" width="282" height="47.4" rx="5"/><text y="5723.4"><tspan x="571">工作描述：受中国针灸协会专家的针灸培训，</tspan><tspan x="571" dy="17.2">取得中国针灸协会会员证书。</tspan></text></g>
<g id="h4"><rect x="879" y="5884" width="67" height="30" rx="5"/><text x="885" y="5899">教育背景</text></g>
<g id="h4a"><rect x="565" y="5785.3" width="282" height="47.4" rx="5"/><text y="5800.4"><tspan x="571">毕业院校：湖南中南大学湘雅医学院最高学历</tspan><tspan x="571" dy="17.2">：本科</tspan></text></g>
<g id="h4b"><rect x="565" y="5862.3" width="282" height="47.4" rx="5"/><text y="5877.4"><tspan x="571">毕业-2003-07-01所学专业一：临床医学所学</tspan><tspan x="571" dy="17.2">专业二：</tspan></text></g>
<g id="h4c"><rect x="727" y="5974" width="120" height="30" rx="5"/><text x="733" y="5989">受教育培训经历：</text></g>
<g id="h4c1"><rect x="467" y="5940" width="228" height="30" rx="5"/><text x="473" y="5955">北京中医科大学针灸骨伤学院中医学</text></g>
<g id="h4c2"><rect x="413" y="5999.3" width="282" height="47.4" rx="5"/><text y="6014.4"><tspan x="419">湖南中南大学湘雅医学院临床医学本科(医学</tspan><tspan x="419" dy="17.2">学士)</tspan></text></g>
<g id="h5"><rect x="879" y="6119" width="67" height="30" rx="5"/><text x="885" y="6134">语言能力</text></g>
<g id="h5a"><rect x="565" y="6076.3" width="282" height="47.4" rx="5"/><text y="6091.4"><tspan x="571">外语：英语良好国语水平：良好粤语水平：一</tspan><tspan x="571" dy="17.2">般</tspan></text></g>
<g id="h5b"><rect x="714" y="6154" width="133" height="30" rx="5"/><text x="720" y="6169">工作能力及其他专长</text></g>
</g>
</g>
</svg>
